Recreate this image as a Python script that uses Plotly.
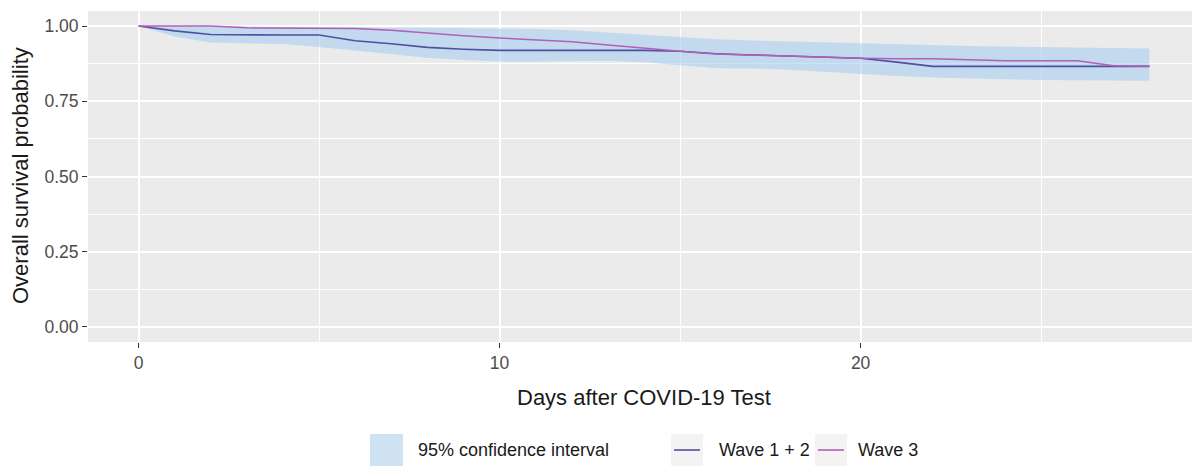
import plotly.graph_objects as go

days = list(range(0, 29))

wave12 = [1.000, 0.984, 0.972, 0.970, 0.970, 0.970, 0.951, 0.941, 0.929, 0.923,
          0.919, 0.919, 0.919, 0.919, 0.919, 0.916, 0.908, 0.904, 0.900, 0.897,
          0.893, 0.880, 0.866, 0.866, 0.866, 0.866, 0.866, 0.866, 0.866]

wave3 = [1.000, 1.000, 1.000, 0.994, 0.994, 0.994, 0.992, 0.986, 0.976, 0.968,
         0.960, 0.955, 0.948, 0.937, 0.926, 0.916, 0.907, 0.903, 0.900, 0.896,
         0.893, 0.891, 0.891, 0.888, 0.885, 0.885, 0.885, 0.868, 0.866]

ci_upper = [1.000, 1.000, 1.000, 0.998, 0.998, 0.997, 0.995, 0.994, 0.994, 0.993,
            0.992, 0.990, 0.986, 0.978, 0.970, 0.962, 0.956, 0.952, 0.949, 0.945,
            0.941, 0.938, 0.936, 0.934, 0.932, 0.930, 0.928, 0.926, 0.925]

ci_lower = [1.000, 0.965, 0.945, 0.942, 0.940, 0.930, 0.918, 0.905, 0.895, 0.887,
            0.882, 0.882, 0.883, 0.885, 0.880, 0.870, 0.860, 0.859, 0.855, 0.848,
            0.840, 0.834, 0.829, 0.825, 0.823, 0.821, 0.820, 0.819, 0.818]

x_ticks = [0, 10, 20]
y_ticks = [0.00, 0.25, 0.50, 0.75, 1.00]
y_tick_labels = ["0.00", "0.25", "0.50", "0.75", "1.00"]

legend_labels = ["95% confidence interval", "Wave 1 + 2", "Wave 3"]

FONT = "Liberation Sans, Arial, sans-serif"
BAND = "rgba(160,202,240,0.55)"
BAND_KEY = "#cfe2f2"
C12 = "#4f4fa3"
C3 = "#b35fb5"

# the page body adds an 8px offset; lay out in target-image pixels minus that
OFF = 8
W, H = 1200 - OFF, 466 - OFF
L, R, T, B = 88 - OFF, 0, 11 - OFF, H - (342 - OFF)
PW, PH = W - L - R, H - T - B


def px(xp):
    return (xp - OFF - L) / PW


def py(yp):
    return (H - B - (yp - OFF)) / PH


fig = go.Figure()
fig.add_trace(go.Scatter(x=days, y=ci_lower, mode="lines", line=dict(width=0),
                         showlegend=False, hoverinfo="skip"))
fig.add_trace(go.Scatter(x=days, y=ci_upper, mode="lines", line=dict(width=0),
                         fill="tonexty", fillcolor=BAND, showlegend=False,
                         name=legend_labels[0]))
fig.add_trace(go.Scatter(x=days, y=wave12, mode="lines", showlegend=False,
                         line=dict(color=C12, width=1.6), name=legend_labels[1]))
fig.add_trace(go.Scatter(x=days, y=wave3, mode="lines", showlegend=False,
                         line=dict(color=C3, width=1.5), name=legend_labels[2]))

# manual legend (ggplot-style keys)
KY0, KY1, KYC = 434, 466, 450
shapes = [
    dict(type="rect", xref="paper", yref="paper", x0=px(370), x1=px(403),
         y0=py(KY1), y1=py(KY0), fillcolor=BAND_KEY, line=dict(width=0), layer="above"),
    dict(type="rect", xref="paper", yref="paper", x0=px(671), x1=px(703),
         y0=py(KY1), y1=py(KY0), fillcolor="#F3F3F3", line=dict(width=0), layer="above"),
    dict(type="line", xref="paper", yref="paper", x0=px(674), x1=px(700),
         y0=py(KYC), y1=py(KYC), line=dict(color=C12, width=1.6), layer="above"),
    dict(type="rect", xref="paper", yref="paper", x0=px(815), x1=px(847),
         y0=py(KY1), y1=py(KY0), fillcolor="#F3F3F3", line=dict(width=0), layer="above"),
    dict(type="line", xref="paper", yref="paper", x0=px(818), x1=px(844),
         y0=py(KYC), y1=py(KYC), line=dict(color=C3, width=1.6), layer="above"),
]

legend_text = [(416, legend_labels[0]), (717, legend_labels[1]), (856, legend_labels[2])]
annotations = [
    dict(text=t, xref="paper", yref="paper", x=px(xp), y=py(KYC), xanchor="left",
         yanchor="middle", showarrow=False, font=dict(family=FONT, size=18, color="#1a1a1a"))
    for xp, t in legend_text
]
annotations += [
    dict(text="Days after COVID-19 Test", xref="paper", yref="paper",
         x=px(644), y=py(397), xanchor="center", yanchor="middle", showarrow=False,
         font=dict(family=FONT, size=22, color="#1a1a1a")),
    dict(text="Overall survival probability", xref="paper", yref="paper",
         x=px(20), y=py(176), xanchor="center", yanchor="middle", textangle=-90,
         showarrow=False, font=dict(family=FONT, size=22, color="#1a1a1a")),
]

fig.update_layout(
    width=W, height=H,
    margin=dict(l=L, r=R, t=T, b=B),
    paper_bgcolor="white", plot_bgcolor="#EBEBEB",
    font=dict(family=FONT, size=18, color="#4D4D4D"),
    showlegend=False,
    shapes=shapes,
    annotations=annotations,
    xaxis=dict(range=[-1.4, 29.4], tickvals=x_ticks, ticktext=[str(v) for v in x_ticks],
               showgrid=True, gridcolor="white", gridwidth=1.5,
               minor=dict(dtick=5, tick0=0, showgrid=True, gridcolor="white", gridwidth=0.7),
               ticks="outside", ticklen=5, tickcolor="#333333", tickwidth=1,
               tickfont=dict(family=FONT, size=17.5, color="#4D4D4D"),
               zeroline=False, showline=False, fixedrange=True, automargin=False),
    yaxis=dict(range=[-0.05, 1.05], tickvals=y_ticks, ticktext=y_tick_labels,
               showgrid=True, gridcolor="white", gridwidth=1.5,
               minor=dict(dtick=0.125, tick0=0.125, showgrid=True, gridcolor="white", gridwidth=0.7),
               ticks="outside", ticklen=5, tickcolor="#333333", tickwidth=1,
               tickfont=dict(family=FONT, size=17.5, color="#4D4D4D"),
               zeroline=False, showline=False, fixedrange=True, automargin=False),
)

fig.write_html("out.html")
